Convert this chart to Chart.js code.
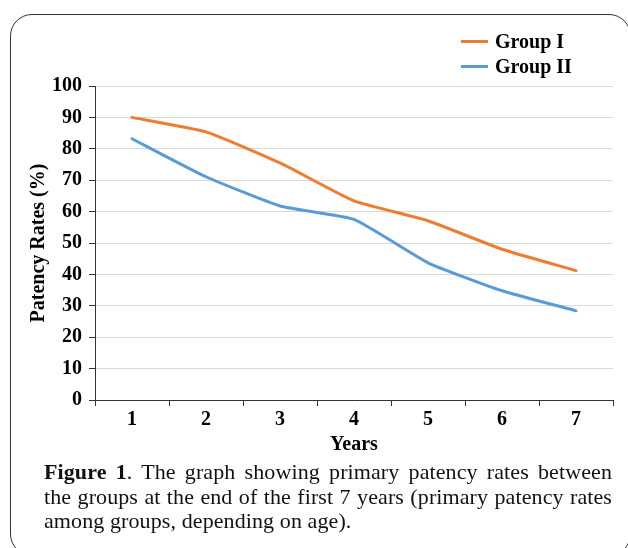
<!DOCTYPE html>
<html>
<head>
<meta charset="utf-8">
<script src="https://cdn.jsdelivr.net/npm/chart.js@4/dist/chart.umd.min.js"></script>
<style>
  body { margin: 0; background: #fff; width: 628px; height: 548px; overflow: hidden; position: relative; }
  #frame { position: absolute; left: 10px; top: 14px; width: 619px; height: 540px; border: 1.5px solid #333; border-radius: 22px; }
  #wrap { position: absolute; left: 0; top: 0; width: 628px; height: 460px; }
  #legend { position: absolute; left: 461px; top: 29px; font: bold 20px "Liberation Serif", serif; color: #000; }
  #legend div { height: 25px; line-height: 25px; white-space: nowrap; }
  #legend span.sw { display: inline-block; width: 27px; height: 3px; vertical-align: middle; margin-right: 7px; position: relative; top: -2px; }
  #caption { position: absolute; left: 44px; top: 460px; width: 568px; font: 22px "Liberation Serif", serif; line-height: 24.5px; letter-spacing: 0.1px; color: #111; }
  #caption div { white-space: nowrap; }
  #caption div.full { text-align: justify; text-align-last: justify; }
</style>
</head>
<body>
<div id="frame"></div>
<div id="wrap"><canvas id="patencyChart" width="628" height="460"></canvas></div>
<div id="legend"></div>
<div id="caption">
  <div class="full"><b>Figure 1</b>. The graph showing primary patency rates between</div>
  <div class="full">the groups at the end of the first 7 years (primary patency rates</div>
  <div>among groups, depending on age).</div>
</div>
<script>
const years = ['1', '2', '3', '4', '5', '6', '7'];
const groupI = [90.0, 85.4, 75.5, 63.4, 57.1, 48.0, 41.2];
const groupII = [83.2, 71.1, 61.8, 57.5, 43.7, 34.8, 28.4];
const seriesNames = ['Group I', 'Group II'];
const seriesColors = ['#ed7d31', '#5b9bd5'];

const axisFont = { family: 'Liberation Serif', size: 20, weight: 'bold' };

// simple html legend, lines stacked like the original
const htmlLegend = {
  id: 'htmlLegend',
  afterUpdate(chart) {
    const box = document.getElementById('legend');
    box.innerHTML = '';
    chart.data.datasets.forEach(ds => {
      const row = document.createElement('div');
      row.innerHTML = '<span class="sw" style="background:' + ds.borderColor + '"></span>' + ds.label;
      box.appendChild(row);
    });
  }
};

const chartData = {
  labels: years,
  datasets: [
    { label: seriesNames[0], data: groupI, borderColor: seriesColors[0], backgroundColor: seriesColors[0] },
    { label: seriesNames[1], data: groupII, borderColor: seriesColors[1], backgroundColor: seriesColors[1] }
  ]
};

new Chart(document.getElementById('patencyChart'), {
  type: 'line',
  data: chartData,
  options: {
    responsive: false,
    animation: false,
    layout: { padding: { left: 0, right: 15, top: 86, bottom: 0 } },
    elements: {
      line: { borderWidth: 3, tension: 0.15, borderCapStyle: 'round' },
      point: { radius: 0, hoverRadius: 0 }
    },
    plugins: { legend: { display: false }, tooltip: { enabled: false } },
    scales: {
      x: {
        offset: true,
        afterFit(scale) { scale.height = 60; },
        grid: { offset: true, drawOnChartArea: false, tickLength: 6, color: '#333' },
        border: { color: '#333', width: 1 },
        ticks: { color: '#000', font: axisFont, padding: 2 },
        title: { display: true, text: 'Years', color: '#000', font: axisFont, padding: { top: 0, bottom: 3 } }
      },
      y: {
        min: 0,
        max: 100,
        afterFit(scale) { scale.width = 95; },
        grid: { color: '#d9d9d9', tickColor: '#333', tickLength: 6, lineWidth: 1 },
        border: { color: '#333', width: 1 },
        ticks: { stepSize: 10, color: '#000', font: axisFont, padding: 7 },
        title: { display: true, text: 'Patency Rates (%)', color: '#000', font: axisFont, padding: { top: 27, bottom: 0 } }
      }
    }
  },
  plugins: [htmlLegend]
});
</script>
</body>
</html>
